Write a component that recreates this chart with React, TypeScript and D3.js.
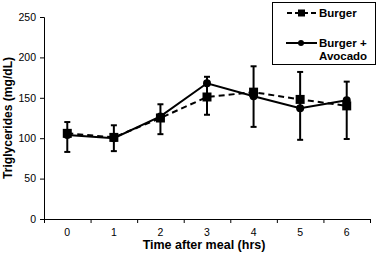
import { useEffect, useRef } from "react";
import * as d3 from "d3";

const HOURS = [0, 1, 2, 3, 4, 5, 6];
const BURGER = [106, 101, 125, 151, 157, 148, 140];
const AVOCADO = [104, 100, 127, 168, 152, 137, 147];
// whisker extents per time point (as drawn, both series overlap)
const ERR_HIGH = [120, 116, 142, 176, 189, 182, 170];
const ERR_LOW = [83, 84, 105, 129, 114, 98, 99];
const Y_TICKS = [0, 50, 100, 150, 200, 250];

const FONT = "'Liberation Sans', Arial, sans-serif";

export default function App() {
  const svgRef = useRef<SVGSVGElement>(null);

  useEffect(() => {
    if (!svgRef.current) return;
    const svg = d3.select(svgRef.current);
    svg.selectAll("*").remove();

    const x = d3.scaleLinear().domain([-0.5, 6.5]).range([44, 370]);
    const y = d3.scaleLinear().domain([0, 250]).range([219, 17]);

    // Y axis
    svg.append("g")
      .attr("transform", "translate(44,0)")
      .call(d3.axisLeft(y).tickValues(Y_TICKS).tickSize(4).tickPadding(4))
      .call((ax) => ax.select(".domain").attr("stroke", "#000").attr("stroke-width", 1))
      .call((ax) => ax.selectAll(".tick line").attr("stroke", "#000"))
      .call((ax) =>
        ax.selectAll("text")
          .attr("fill", "#000")
          .attr("font-family", FONT)
          .attr("font-size", "10.5px")
      );

    // X axis: tick marks on band edges, labels at centers
    svg.append("g")
      .attr("transform", "translate(0,219)")
      .call(d3.axisBottom(x).tickValues(d3.range(-0.5, 7, 1)).tickSize(4).tickFormat(() => ""))
      .call((ax) => ax.select(".domain").attr("stroke", "#000").attr("stroke-width", 1))
      .call((ax) => ax.selectAll(".tick line").attr("stroke", "#000"));

    svg.append("g")
      .selectAll("text")
      .data(HOURS)
      .join("text")
      .attr("x", (d) => x(d))
      .attr("y", 236)
      .attr("text-anchor", "middle")
      .attr("font-family", FONT)
      .attr("font-size", "10.5px")
      .text((d) => String(d));

    // Titles
    svg.append("text")
      .attr("x", 204)
      .attr("y", 249)
      .attr("text-anchor", "middle")
      .attr("font-family", FONT)
      .attr("font-weight", "bold")
      .attr("font-size", "12.5px")
      .text("Time after meal (hrs)");

    svg.append("text")
      .attr("transform", "translate(12,118) rotate(-90)")
      .attr("text-anchor", "middle")
      .attr("font-family", FONT)
      .attr("font-weight", "bold")
      .attr("font-size", "12px")
      .attr("textLength", 122)
      .attr("lengthAdjust", "spacingAndGlyphs")
      .text("Triglycerides (mg/dL)");

    // Error bars
    const eb = svg.append("g").attr("stroke", "#000").attr("stroke-width", 2);
    HOURS.forEach((h, i) => {
      eb.append("line")
        .attr("x1", x(h)).attr("x2", x(h))
        .attr("y1", y(ERR_HIGH[i])).attr("y2", y(ERR_LOW[i]));
      [ERR_HIGH[i], ERR_LOW[i]].forEach((v) => {
        eb.append("line")
          .attr("x1", x(h) - 3).attr("x2", x(h) + 3)
          .attr("y1", y(v)).attr("y2", y(v));
      });
    });

    const line = d3.line<number>()
      .x((_, i) => x(HOURS[i]))
      .y((d) => y(d));

    svg.append("path")
      .datum(BURGER)
      .attr("fill", "none")
      .attr("stroke", "#000")
      .attr("stroke-width", 2)
      .attr("stroke-dasharray", "6 4")
      .attr("d", line);

    svg.append("path")
      .datum(AVOCADO)
      .attr("fill", "none")
      .attr("stroke", "#000")
      .attr("stroke-width", 2)
      .attr("d", line);

    svg.append("g")
      .selectAll("rect")
      .data(BURGER)
      .join("rect")
      .attr("x", (_, i) => x(HOURS[i]) - 4.5)
      .attr("y", (d) => y(d) - 4.5)
      .attr("width", 9)
      .attr("height", 9)
      .attr("fill", "#000");

    svg.append("g")
      .selectAll("circle")
      .data(AVOCADO)
      .join("circle")
      .attr("cx", (_, i) => x(HOURS[i]))
      .attr("cy", (d) => y(d))
      .attr("r", 4)
      .attr("fill", "#000");

    // Legend
    const lg = svg.append("g");
    lg.append("rect")
      .attr("x", 272.5).attr("y", 2.5)
      .attr("width", 103).attr("height", 62)
      .attr("fill", "#fff").attr("stroke", "#000").attr("stroke-width", 1);
    lg.append("line")
      .attr("x1", 287).attr("x2", 317).attr("y1", 13).attr("y2", 13)
      .attr("stroke", "#000").attr("stroke-width", 2).attr("stroke-dasharray", "5 3");
    lg.append("rect").attr("x", 298).attr("y", 9.5).attr("width", 7).attr("height", 7).attr("fill", "#000");
    lg.append("line")
      .attr("x1", 286).attr("x2", 317).attr("y1", 43).attr("y2", 43)
      .attr("stroke", "#000").attr("stroke-width", 2);
    lg.append("circle").attr("cx", 301).attr("cy", 43).attr("r", 3).attr("fill", "#000");
    const lt = [
      { t: "Burger", yy: 17 },
      { t: "Burger +", yy: 47 },
      { t: "Avocado", yy: 60 },
    ];
    lg.selectAll("text.lt")
      .data(lt)
      .join("text")
      .attr("x", 319)
      .attr("y", (d) => d.yy)
      .attr("font-family", FONT)
      .attr("font-weight", "bold")
      .attr("font-size", "11.5px")
      .text((d) => d.t);
  }, []);

  return (
    <div style={{ position: "fixed", left: 0, top: 0, width: 378, height: 253, background: "#fff" }}>
      <svg ref={svgRef} width={378} height={253} />
    </div>
  );
}
